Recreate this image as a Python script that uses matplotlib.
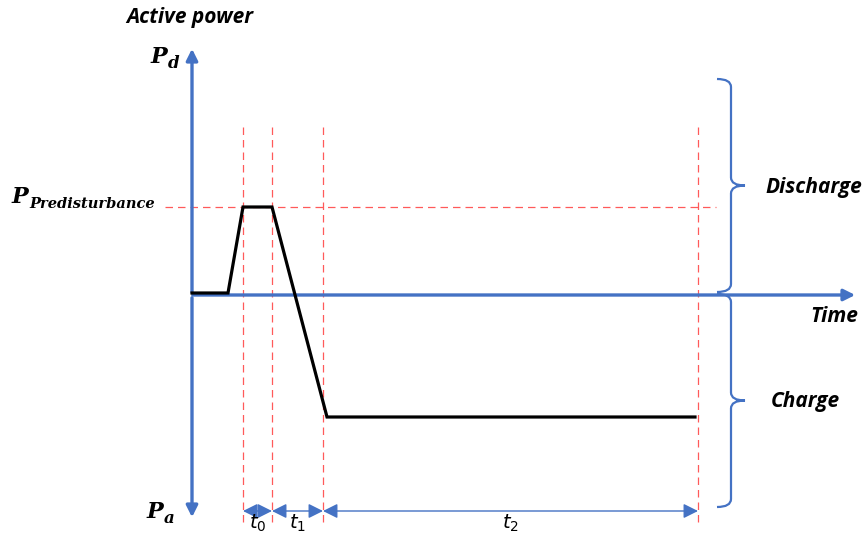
import matplotlib.pyplot as plt
from matplotlib.path import Path
from matplotlib.patches import PathPatch, FancyArrowPatch

# Schematic values (picture coordinates, y grows downwards)
t_pts = [192, 228, 243, 272, 327, 695]      # breakpoints of the power curve
p_pts = [293, 293, 207, 207, 417, 417]      # power level at each breakpoint
t_marks = [243, 272, 323, 698]              # red dashed time markers
p_pre = 207                                  # pre-disturbance level
p_zero = 295                                 # zero power (time axis)
interval_labels = ['$t_0$', '$t_1$', '$t_2$']

BLUE = '#4472C4'
RED = '#FF5A5A'

fig = plt.figure(figsize=(8.64, 5.36), dpi=100)
ax = fig.add_axes([0, 0, 1, 1])
ax.set_xlim(0, 864)
ax.set_ylim(536, 0)
ax.axis('off')

# axes arrows
arr = dict(arrowstyle='-|>', color=BLUE, lw=2.4, mutation_scale=17)
ax.annotate('', xy=(192, 46), xytext=(192, p_zero), arrowprops=arr)
ax.annotate('', xy=(192, 520), xytext=(192, p_zero), arrowprops=arr)
ax.annotate('', xy=(858, p_zero), xytext=(190, p_zero), arrowprops=arr)

# red dashed guides
for x in t_marks:
    ax.plot([x, x], [127, 527], color=RED, lw=0.9, ls=(0, (6, 4)))
ax.plot([165, 716], [p_pre, p_pre], color=RED, lw=0.9, ls=(0, (6, 4)))

# power curve
ax.plot(t_pts, p_pts, color='black', lw=2.3, solid_joinstyle='miter', zorder=5)


# curly braces on the right
def brace(ax, x, y0, y1, w=14, tip=14):
    ym = (y0 + y1) / 2
    verts = [(x - w, y0), (x, y0), (x, y0 + 8),
             (x, ym - 8),
             (x, ym), (x + tip, ym),
             (x, ym), (x, ym + 8),
             (x, y1 - 8),
             (x, y1), (x - w, y1)]
    codes = [Path.MOVETO, Path.CURVE3, Path.CURVE3,
             Path.LINETO,
             Path.CURVE3, Path.CURVE3,
             Path.CURVE3, Path.CURVE3,
             Path.LINETO,
             Path.CURVE3, Path.CURVE3]
    ax.add_patch(PathPatch(Path(verts, codes), fill=False, edgecolor=BLUE, lw=1.6))


brace(ax, 731, 79, 292)
brace(ax, 731, 294, 507)

# interval dimension arrows
for i, lab in enumerate(interval_labels):
    a, b = t_marks[i], t_marks[i + 1]
    ax.add_patch(FancyArrowPatch((a, 511), (b, 511), arrowstyle='<|-|>',
                                 color=BLUE, lw=1.0, mutation_scale=22,
                                 shrinkA=0, shrinkB=0))
    ax.text((a + b) / 2, 523, lab, ha='center', va='center', fontsize=14)

# labels
lab_font = dict(family='Open Sans', weight='bold', style='italic', fontsize=15)
ax.text(190, 17, 'Active power', ha='center', va='center', **lab_font)
ax.text(834, 317, 'Time', ha='center', va='center', **lab_font)
ax.text(814, 187, 'Discharge', ha='center', va='center', **lab_font)
ax.text(805, 402, 'Charge', ha='center', va='center', **lab_font)

# P labels: bold italic serif letter with a smaller subscript
p_font = dict(family='DejaVu Serif', weight='bold', style='italic', va='baseline', ha='left')
ax.text(151, 63, 'P', fontsize=16, **p_font)
ax.text(168, 68, 'd', fontsize=12, **p_font)
ax.text(12, 203, 'P', fontsize=16, **p_font)
ax.text(29, 208, 'Predisturbance', fontsize=10.5, **p_font)
ax.text(147, 518, 'P', fontsize=16, **p_font)
ax.text(164, 523, 'a', fontsize=12, **p_font)

fig.savefig('out.png', dpi=100)
